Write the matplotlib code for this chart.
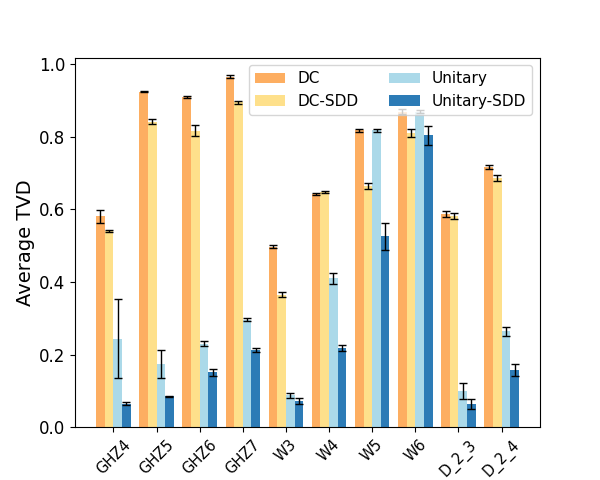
import numpy as np
import matplotlib
matplotlib.use("Agg")
import matplotlib.pyplot as plt

categories = ["GHZ4", "GHZ5", "GHZ6", "GHZ7", "W3", "W4", "W5", "W6", "D_2_3", "D_2_4"]
series_names = ["DC", "DC-SDD", "Unitary", "Unitary-SDD"]

dc = [0.581, 0.924, 0.910, 0.965, 0.497, 0.641, 0.818, 0.869, 0.587, 0.716]
dc_err = [0.018, 0.001, 0.003, 0.004, 0.004, 0.003, 0.004, 0.007, 0.008, 0.006]
dc_sdd = [0.540, 0.841, 0.816, 0.895, 0.365, 0.648, 0.664, 0.809, 0.581, 0.687]
dc_sdd_err = [0.004, 0.007, 0.015, 0.004, 0.007, 0.002, 0.009, 0.011, 0.009, 0.008]
unitary = [0.244, 0.174, 0.230, 0.296, 0.088, 0.410, 0.818, 0.869, 0.099, 0.264]
unitary_err = [0.109, 0.039, 0.006, 0.004, 0.007, 0.015, 0.004, 0.005, 0.022, 0.012]
unitary_sdd = [0.065, 0.085, 0.151, 0.212, 0.073, 0.219, 0.526, 0.804, 0.063, 0.157]
unitary_sdd_err = [0.004, 0.001, 0.010, 0.005, 0.008, 0.008, 0.037, 0.026, 0.014, 0.017]

values = [dc, dc_sdd, unitary, unitary_sdd]
errors = [dc_err, dc_sdd_err, unitary_err, unitary_sdd_err]
colors = ["#fdae61", "#fee08b", "#abd9e9", "#2c7bb6"]

fig, ax = plt.subplots(figsize=(6, 4.8), dpi=100)
x = np.arange(len(categories))
w = 0.2
for i, (vals, errs, name, c) in enumerate(zip(values, errors, series_names, colors)):
    ax.bar(x + (i - 1.5) * w, vals, w, yerr=errs, color=c, label=name,
           capsize=3, error_kw=dict(ecolor="black", elinewidth=1, capthick=1))

ax.set_xticks(x)
ax.set_xticklabels(categories, rotation=45, fontsize=10.5)
ax.tick_params(axis="y", labelsize=12)
ax.set_ylabel("Average TVD", fontsize=14, labelpad=2.5)
ax.legend(ncol=2, loc="upper right", fontsize=11)
fig.savefig("out.png", dpi=100)
